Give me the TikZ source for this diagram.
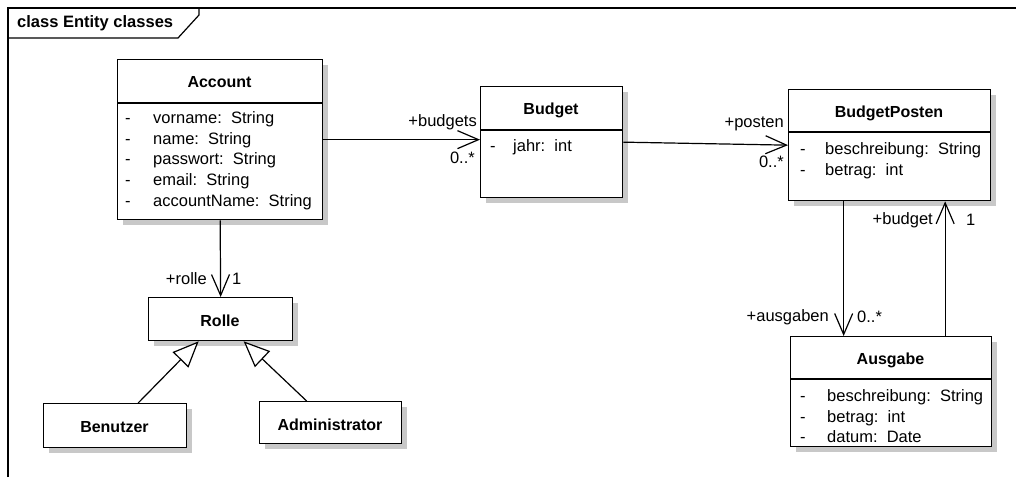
\documentclass[tikz,border=0pt]{standalone}
\usepackage{fontspec}
\setmainfont{Liberation Sans}
\usetikzlibrary{arrows.meta,shadows,calc}
\definecolor{shadowgray}{RGB}{200,200,200}
\begin{document}
\begin{tikzpicture}[x=1pt,y=-1pt,
  cls/.style={draw, line width=1.3pt, fill=white, inner sep=0pt, anchor=north west,
    drop shadow={shadow xshift=5pt, shadow yshift=-5pt, fill=shadowgray, opacity=1}},
  cname/.style={font=\fontsize{16}{19}\selectfont\bfseries, inner sep=0pt},
  attr/.style={font=\fontsize{16.5}{20}\selectfont, anchor=base west, inner sep=0pt},
  lbl/.style={font=\fontsize{16.5}{20}\selectfont, inner sep=0pt},
  sep/.style={line width=1.3pt},
  assoc/.style={line width=1.2pt, -{Straight Barb[length=21pt,width=18pt]}},
  gen/.style={line width=1.2pt, -{Triangle[open, length=26pt, width=22pt, fill=white]}},
  frm/.style={line width=1.2pt}
]
\useasboundingbox (0,0) rectangle (1016,477);

% frame
\coordinate (fbl) at (8,477);
\coordinate (ftl) at (8,8);
\coordinate (ftr) at (1016,8);
\draw[frm] (fbl) -- (ftl) -- (ftr);
\coordinate (t1) at (8,38);
\coordinate (t2) at (178,38);
\coordinate (t3) at (199,15);
\coordinate (t4) at (199,8);
\draw[frm] (t1) -- (t2) -- (t3) -- (t4);
\node[cname, anchor=west, font=\fontsize{16.5}{19}\selectfont\bfseries] (ftitle) at (17,23) {class Entity classes};

% Account
\node[cls, minimum width=205pt, minimum height=160pt] (acc) at (117,59) {};
\draw[sep] (acc.west |- 0,103) -- (acc.east |- 0,103);
\node[cname] (accn) at (219.5,82) {Account};
\foreach \i/\y/\t in {1/123/{vorname:\ \ String},2/144/{name:\ \ String},3/164/{passwort:\ \ String},4/185/{email:\ \ String},5/206/{accountName:\ \ String}}{
  \node[attr] (accd\i) at (125,\y) {-};
  \node[attr] (acca\i) at (153,\y) {\t};
}

% Budget
\node[cls, minimum width=142pt, minimum height=111pt] (bud) at (480,86) {};
\draw[sep] (bud.west |- 0,130) -- (bud.east |- 0,130);
\node[cname] (budn) at (551,110) {Budget};
\node[attr] (budd1) at (490,151) {-};
\node[attr] (buda1) at (513,151) {jahr:\ \ int};

% BudgetPosten
\node[cls, minimum width=202pt, minimum height=111pt] (bp) at (788,89) {};
\draw[sep] (bp.west |- 0,132) -- (bp.east |- 0,132);
\node[cname] (bpn) at (889,113) {BudgetPosten};
\node[attr] (bpd1) at (800,154) {-};
\node[attr] (bpa1) at (825,154) {beschreibung:\ \ String};
\node[attr] (bpd2) at (800,175) {-};
\node[attr] (bpa2) at (825,175) {betrag:\ \ int};

% Ausgabe
\node[cls, minimum width=201pt, minimum height=110pt] (aus) at (790,336) {};
\draw[sep] (aus.west |- 0,379) -- (aus.east |- 0,379);
\node[cname] (ausn) at (890.5,360) {Ausgabe};
\node[attr] (ausd1) at (800,401) {-};
\node[attr] (ausa1) at (827,401) {beschreibung:\ \ String};
\node[attr] (ausd2) at (800,422) {-};
\node[attr] (ausa2) at (827,422) {betrag:\ \ int};
\node[attr] (ausd3) at (800,442) {-};
\node[attr] (ausa3) at (827,442) {datum:\ \ Date};

% Rolle, Benutzer, Administrator
\node[cls, minimum width=144pt, minimum height=43pt] (rol) at (148,297) {};
\node[cname] (roln) at (220,321) {Rolle};
\node[cls, minimum width=143pt, minimum height=44pt] (ben) at (43,403) {};
\node[cname] (benn) at (114.5,427) {Benutzer};
\node[cls, minimum width=142pt, minimum height=42pt] (adm) at (259,401) {};
\node[cname] (admn) at (330,425) {Administrator};

% associations
\draw[assoc] (acc.east) -- (acc.east -| bud.west);
\node[lbl, anchor=east] (l1) at (477,122) {+budgets};
\node[lbl, anchor=east] (l2) at (475,158) {0..*};

\draw[assoc] (bud.east) -- (bp.west);
\node[lbl, anchor=east] (l3) at (784,124) {+posten};
\node[lbl, anchor=east] (l4) at (784,162) {0..*};

\draw[assoc] (acc.south) -- (rol.north);
\node[lbl, anchor=east] (l5) at (207,279) {+rolle};
\node[lbl, anchor=west] (l6) at (232,279) {1};

\coordinate (bpl) at ([xshift=-46pt]bp.south);
\draw[assoc] (bpl) -- (bpl |- aus.north);
\node[lbl, anchor=east] (l7) at (829,317) {+ausgaben};
\node[lbl, anchor=west] (l8) at (857,317) {0..*};

\coordinate (ausr) at ([xshift=54pt]aus.north);
\draw[assoc] (ausr) -- (ausr |- bp.south);
\node[lbl, anchor=east] (l9) at (933,220) {+budget};
\node[lbl, anchor=west] (l10) at (966,220) {1};

% generalizations
\draw[gen] ([xshift=23pt]ben.north) -- ([xshift=-22pt]rol.south);
\draw[gen] ([xshift=-24pt]adm.north) -- ([xshift=23pt]rol.south);
\end{tikzpicture}
\end{document}
